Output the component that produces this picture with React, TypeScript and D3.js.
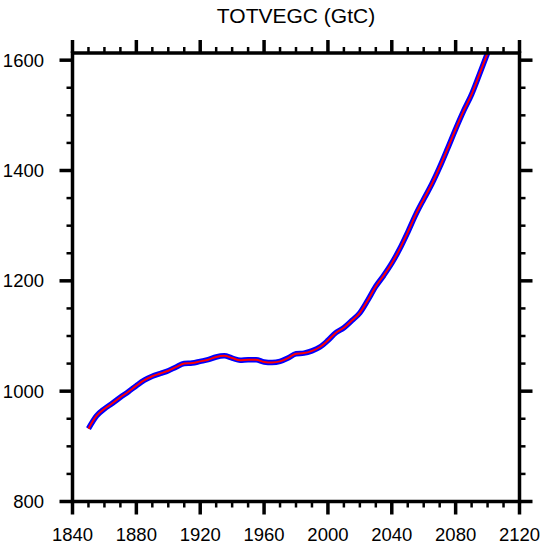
import React from "react";
import * as d3 from "d3";

const years = [
  1850, 1855, 1860, 1865, 1870, 1875, 1880, 1885, 1890, 1895, 1900, 1905, 1910,
  1915, 1920, 1925, 1930, 1935, 1940, 1945, 1950, 1955, 1960, 1965, 1970, 1975,
  1980, 1985, 1990, 1995, 2000, 2005, 2010, 2015, 2020, 2025, 2030, 2035, 2040,
  2045, 2050, 2055, 2060, 2065, 2070, 2075, 2080, 2085, 2090, 2095, 2100,
];
const totvegc = [
  932, 955, 968, 978, 989, 999, 1010, 1020, 1027, 1032, 1037, 1044, 1050,
  1051, 1054, 1057, 1062, 1064, 1060, 1056, 1057, 1057, 1053, 1052, 1054, 1060,
  1068, 1069, 1073, 1080, 1092, 1106, 1115, 1128, 1142, 1165, 1190, 1210, 1232,
  1258, 1288, 1320, 1348, 1375, 1406, 1440, 1475, 1508, 1538, 1575, 1613,
];
const xTicks = [1840, 1880, 1920, 1960, 2000, 2040, 2080, 2120];
const yTicks = [800, 1000, 1200, 1400, 1600];
const title = "TOTVEGC (GtC)";

const W = 547;
const H = 547;
const L = 72.5;
const R = 519.5;
const T = 53;
const B = 501.5;

export default function App() {
  const x = d3.scaleLinear().domain([1840, 2120]).range([L, R]);
  const y = d3.scaleLinear().domain([800, 1613]).range([B, T]);
  const data = years.map((yr, i) => [yr, totvegc[i]] as [number, number]);
  const line = d3
    .line<[number, number]>()
    .x((d) => x(d[0]))
    .y((d) => y(d[1]))
    .curve(d3.curveMonotoneX);
  const path = line(data) || "";

  const xMinor = d3.range(1840, 2121, 10).filter((v) => v % 40 !== 0);
  const yMinor = d3.range(800, 1613, 50).filter((v) => v % 200 !== 0);
  const font = "'Liberation Sans', Arial, Helvetica, sans-serif";
  const MAJ = 13;
  const MIN = 6;

  return (
    <svg
      width={W}
      height={H}
      style={{ position: "absolute", left: 0, top: 0, background: "#fff" }}
    >
      <defs>
        <clipPath id="plotclip">
          <rect x={L} y={T} width={R - L} height={B - T} />
        </clipPath>
      </defs>
      <text
        x={(L + R) / 2}
        y={23}
        textAnchor="middle"
        fontFamily={font}
        fontSize={21}
      >
        {title}
      </text>
      <g clipPath="url(#plotclip)">
        <path d={path} fill="none" stroke="#0000ff" strokeWidth={5.5} strokeLinejoin="round" />
        <path d={path} fill="none" stroke="#ff0000" strokeWidth={2} strokeLinejoin="round" />
      </g>
      <rect
        x={L}
        y={T}
        width={R - L}
        height={B - T}
        fill="none"
        stroke="#000"
        strokeWidth={3.5}
      />
      {xTicks.map((v) => (
        <g key={"xt" + v}>
          <line x1={x(v)} x2={x(v)} y1={B} y2={B + MAJ} stroke="#000" strokeWidth={3.5} />
          <line x1={x(v)} x2={x(v)} y1={T} y2={T - MAJ} stroke="#000" strokeWidth={3.5} />
          <text
            x={x(v)}
            y={541}
            textAnchor="middle"
            fontFamily={font}
            fontSize={18.5}
          >
            {v}
          </text>
        </g>
      ))}
      {xMinor.map((v) => (
        <g key={"xm" + v}>
          <line x1={x(v)} x2={x(v)} y1={B} y2={B + MIN} stroke="#000" strokeWidth={2.5} />
          <line x1={x(v)} x2={x(v)} y1={T} y2={T - MIN} stroke="#000" strokeWidth={2.5} />
        </g>
      ))}
      {yTicks.map((v) => (
        <g key={"yt" + v}>
          <line x1={L} x2={L - MAJ} y1={y(v)} y2={y(v)} stroke="#000" strokeWidth={3.5} />
          <line x1={R} x2={R + MAJ} y1={y(v)} y2={y(v)} stroke="#000" strokeWidth={3.5} />
          <text
            x={44}
            y={y(v)}
            dy="0.35em"
            textAnchor="end"
            fontFamily={font}
            fontSize={18.5}
          >
            {v}
          </text>
        </g>
      ))}
      {yMinor.map((v) => (
        <g key={"ym" + v}>
          <line x1={L} x2={L - MIN} y1={y(v)} y2={y(v)} stroke="#000" strokeWidth={2.5} />
          <line x1={R} x2={R + MIN} y1={y(v)} y2={y(v)} stroke="#000" strokeWidth={2.5} />
        </g>
      ))}
    </svg>
  );
}
